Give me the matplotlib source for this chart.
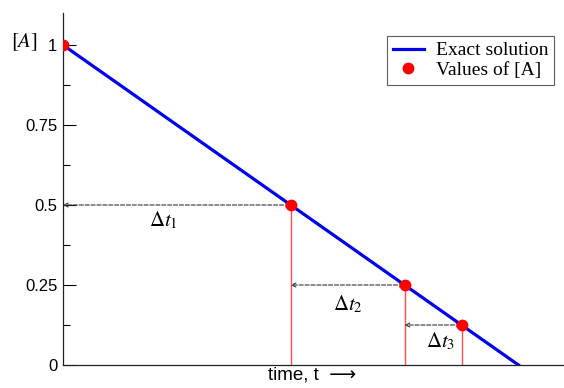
import numpy as np
import matplotlib.pyplot as plt
from matplotlib.ticker import MultipleLocator

# 零级反应：[A] 随时间线性下降
t_exact = [0.0, 1.0]
a_exact = [1.0, 0.0]

t_points = [0.0, 0.5, 0.75, 0.875]
a_points = [1.0, 0.5, 0.25, 0.125]

dt_labels = [r'$\Delta t_1$', r'$\Delta t_2$', r'$\Delta t_3$']
yticks = [0, 0.25, 0.5, 0.75, 1]
ytick_labels = ['0', '0.25', '0.5', '0.75', '1']

plt.rcParams['mathtext.fontset'] = 'stix'

fig = plt.figure(figsize=(5.64, 3.88), dpi=100)
ax = fig.add_axes([63 / 564, 23 / 388, 501 / 564, 352 / 388])

ax.plot(t_exact, a_exact, color='#0000ee', lw=2.3, label='Exact solution', zorder=3)

# 竖直红线
for t, a in zip(t_points[1:], a_points[1:]):
    ax.plot([t, t], [0, a], color='#ff5050', lw=1.0, zorder=2)

# 虚线箭头 Δt
for i in range(1, len(t_points)):
    ax.annotate('', xy=(t_points[i - 1], a_points[i]), xytext=(t_points[i], a_points[i]),
                arrowprops=dict(arrowstyle='<->', linestyle='--', color='#333333',
                                lw=0.8, shrinkA=0, shrinkB=0,
                                mutation_scale=7), zorder=2)

# 标签位置（相对于每个区间）
lab_x = [0.22, 0.626, 0.83]
lab_y = [0.453, 0.19, 0.075]
for s, x, y in zip(dt_labels, lab_x, lab_y):
    ax.text(x, y, s, fontsize=15, ha='center', va='center')

ax.plot(t_points, a_points, 'o', color='#ff0000', ms=7.5, ls='none',
        label='Values of [A]', zorder=4)

ax.set_xlim(0, 1.1)
ax.set_ylim(0, 1.1)
ax.set_xticks([])
ax.set_yticks(yticks)
ax.set_yticklabels(ytick_labels, family=['Liberation Sans', 'DejaVu Sans'], fontsize=12)
ax.yaxis.set_minor_locator(MultipleLocator(0.125))
ax.tick_params(axis='y', which='major', direction='in', length=9, width=0.8, pad=4)
ax.tick_params(axis='y', which='minor', direction='in', length=5, width=0.8)

for side in ['top', 'right']:
    ax.spines[side].set_visible(False)
for side in ['left', 'bottom']:
    ax.spines[side].set_linewidth(0.9)
    ax.spines[side].set_color('#222222')

ax.set_xlabel('time, t  \u27f6\u2009', family=['Liberation Sans', 'DejaVu Sans'],
              fontsize=13.5, labelpad=1)
fig.text(24 / 564, 1 - 42 / 388, r'$[A]$', fontsize=15, ha='center', va='center')

leg = ax.legend(loc='upper right', bbox_to_anchor=(0.98, 0.935),
                prop={'family': 'Liberation Serif', 'size': 14},
                frameon=True, fancybox=False, edgecolor='#333333',
                handlelength=1.6, handletextpad=0.6, borderpad=0.3,
                labelspacing=0.12, borderaxespad=0)
leg.get_frame().set_linewidth(0.8)

plt.savefig('out.png', dpi=100)
